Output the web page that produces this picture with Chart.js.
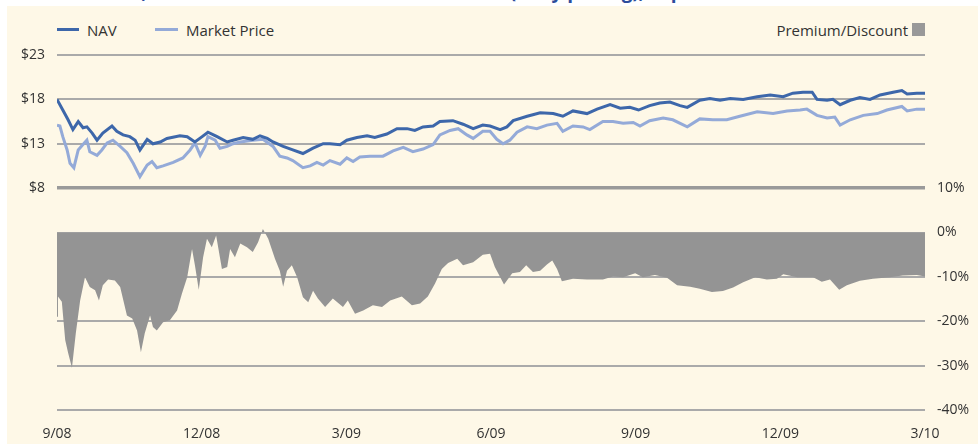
<!DOCTYPE html>
<html>
<head>
<meta charset="utf-8">
<script src="https://cdn.jsdelivr.net/npm/chart.js@4.4.1/dist/chart.umd.min.js"></script>
<style>
body{margin:0;background:#fff;width:978px;height:444px;overflow:hidden;position:relative;font-family:'Open Sans',sans-serif}
#bg{position:absolute;left:7px;top:6px;right:0;bottom:0;background:#fef8e7}
#title{position:absolute;left:20px;top:-22px;font-weight:bold;font-size:19px;line-height:26px;color:#2c4d9c;white-space:nowrap}
.leg{position:absolute;font-size:15px;color:#333;line-height:20px;top:20px}
.sw{position:absolute;height:3px;top:28px}
#sq{position:absolute;left:912px;top:23px;width:13px;height:13px;background:#999}
canvas{position:absolute;left:0;top:0}
</style>
</head>
<body>
<div id="bg"></div>
<div id="title">Market Price, Net Asset Value &amp; Premium/Discount (daily pricing), September 2008 – March 2010</div>
<div class="sw" style="left:57px;width:22px;background:#3d67aa"></div>
<div class="leg" style="left:87px">NAV</div>
<div class="sw" style="left:155px;width:23px;background:#94aad8"></div>
<div class="leg" style="left:186px">Market Price</div>
<div class="leg" style="right:70px">Premium/Discount</div>
<div id="sq"></div>
<canvas id="chart" width="978" height="444"></canvas>
<script>
// months since 9/08
let navM=[0,0.12,0.23,0.33,0.44,0.54,0.62,0.73,0.83,0.95,1.14,1.24,1.37,1.51,1.62,1.72,1.87,1.99,2.14,2.28,2.55,2.70,2.86,3.01,3.13,3.32,3.53,3.65,3.86,4.06,4.21,4.36,4.48,4.69,4.89,5.10,5.31,5.52,5.66,5.87,6.01,6.22,6.43,6.59,6.84,7.05,7.26,7.42,7.59,7.80,7.94,8.21,8.42,8.63,8.83,8.98,9.19,9.33,9.46,9.75,10.02,10.29,10.49,10.70,10.99,11.20,11.47,11.68,11.88,12.06,12.29,12.50,12.71,12.92,13.07,13.33,13.54,13.75,13.96,14.23,14.52,14.79,15.06,15.26,15.47,15.66,15.76,15.97,16.09,16.24,16.45,16.65,16.86,17.07,17.34,17.52,17.63,17.83,18.0]
let navV=[18.0,16.8,15.7,14.6,15.5,14.8,14.9,14.2,13.4,14.2,15.0,14.4,14.0,13.8,13.4,12.3,13.5,13.0,13.2,13.6,13.9,13.8,13.2,13.8,14.3,13.8,13.2,13.4,13.7,13.5,13.9,13.6,13.2,12.7,12.3,11.9,12.5,13.0,13.0,12.9,13.4,13.7,13.9,13.7,14.1,14.7,14.7,14.5,14.9,15.0,15.5,15.6,15.2,14.7,15.1,15.0,14.6,14.9,15.6,16.1,16.5,16.4,16.1,16.7,16.4,16.9,17.4,17.0,17.1,16.8,17.3,17.6,17.7,17.3,17.1,17.9,18.1,17.9,18.1,18.0,18.3,18.5,18.3,18.7,18.8,18.8,18.0,17.9,18.0,17.4,17.9,18.2,18.0,18.5,18.8,19.0,18.6,18.7,18.7]

let mktM=[0,0.06,0.12,0.21,0.27,0.35,0.44,0.52,0.62,0.68,0.83,0.93,1.04,1.16,1.31,1.45,1.58,1.72,1.87,1.97,2.07,2.20,2.41,2.61,2.76,2.86,2.97,3.07,3.13,3.28,3.38,3.53,3.65,3.80,4.06,4.27,4.48,4.62,4.77,4.89,5.10,5.25,5.39,5.52,5.66,5.87,6.01,6.14,6.28,6.49,6.76,6.97,7.18,7.38,7.59,7.80,7.94,8.15,8.32,8.50,8.63,8.83,8.98,9.12,9.25,9.39,9.54,9.75,9.95,10.16,10.37,10.49,10.70,10.91,11.05,11.32,11.53,11.74,11.95,12.09,12.29,12.57,12.77,13.07,13.33,13.60,13.89,14.16,14.52,14.85,15.14,15.41,15.55,15.76,15.97,16.13,16.24,16.45,16.72,17.01,17.21,17.52,17.63,17.83,18.0]
let mktV=[15.1,15.0,13.8,12.3,10.8,10.3,12.3,12.8,13.4,12.1,11.7,12.3,13.1,13.4,12.7,12.0,10.8,9.3,10.6,11.0,10.3,10.5,10.9,11.4,12.3,13.1,11.7,12.7,13.8,13.4,12.5,12.7,13.0,13.2,13.4,13.5,12.7,11.6,11.4,11.1,10.3,10.5,10.9,10.6,11.1,10.7,11.4,11.0,11.5,11.6,11.6,12.2,12.6,12.1,12.4,12.9,14.0,14.5,14.7,14.0,13.6,14.4,14.4,13.5,13.0,13.4,14.3,14.9,14.7,15.1,15.3,14.4,15.0,14.9,14.6,15.5,15.5,15.3,15.4,15.0,15.6,15.9,15.7,14.9,15.8,15.7,15.7,16.1,16.6,16.4,16.7,16.8,16.9,16.2,15.9,16.0,15.1,15.7,16.2,16.4,16.8,17.2,16.7,16.9,16.9]

let pdM=[0,0.02,0.10,0.17,0.23,0.31,0.39,0.48,0.58,0.68,0.79,0.87,0.95,1.06,1.20,1.31,1.45,1.56,1.66,1.74,1.82,1.93,1.99,2.07,2.20,2.34,2.49,2.59,2.70,2.80,2.86,2.94,3.03,3.11,3.21,3.30,3.42,3.53,3.59,3.69,3.80,3.94,4.06,4.17,4.27,4.38,4.52,4.62,4.69,4.77,4.87,4.98,5.10,5.21,5.31,5.41,5.56,5.72,5.93,6.03,6.18,6.35,6.55,6.74,6.91,7.15,7.36,7.53,7.69,7.84,7.98,8.11,8.30,8.42,8.63,8.83,8.98,9.08,9.27,9.44,9.60,9.73,9.87,10.02,10.16,10.27,10.37,10.47,10.70,10.99,11.32,11.53,11.74,11.99,12.15,12.40,12.65,12.86,13.13,13.33,13.58,13.81,14.02,14.23,14.48,14.72,14.93,15.06,15.35,15.68,15.86,16.03,16.22,16.38,16.65,16.92,17.27,17.54,17.83,18.0]
let pdV=[-19.0,-14.4,-15.6,-24.2,-27.1,-30.5,-22.7,-15.3,-10.1,-12.3,-13.0,-15.3,-11.9,-10.6,-10.8,-12.3,-18.7,-19.4,-22.1,-27.0,-22.7,-18.7,-21.3,-22.1,-20.2,-19.8,-17.6,-13.8,-10.1,-3.7,-7.4,-12.9,-5.6,-1.4,-3.3,-0.7,-8.2,-7.8,-3.7,-5.6,-2.5,-3.3,-4.4,-2.2,0.8,-1.4,-5.9,-8.6,-12.2,-8.6,-7.4,-10.1,-14.6,-15.7,-13.1,-14.9,-16.8,-14.9,-16.8,-15.3,-18.3,-17.6,-16.4,-16.8,-15.3,-14.4,-16.4,-16.0,-14.4,-11.5,-8.2,-6.9,-5.9,-7.4,-6.7,-5.0,-4.8,-7.8,-11.7,-9.2,-8.9,-7.4,-8.9,-8.6,-7.2,-6.3,-8.2,-11.0,-10.4,-10.6,-10.6,-9.9,-10.1,-9.2,-10.1,-9.6,-10.2,-11.9,-12.2,-12.7,-13.4,-13.2,-12.4,-11.2,-10.1,-10.6,-10.4,-9.4,-10.1,-10.1,-11.1,-10.6,-12.9,-11.9,-10.9,-10.4,-10.1,-9.7,-9.6,-9.9]

let dateLabels=["9/08","12/08","3/09","6/09","9/09","12/09","3/10"]

function pts(m,v){return m.map((x,i)=>({x:x,y:v[i]}))}

Chart.defaults.font.family="'Open Sans', sans-serif"
Chart.defaults.font.size=14
Chart.defaults.color="#333"

let chart=new Chart(document.getElementById("chart"),{
type:"line",
data:{
datasets:[
{label:"NAV",data:pts(navM,navV),yAxisID:"y",borderColor:"#3d67aa",borderWidth:3,pointRadius:0,tension:0,fill:false,order:1},
{label:"Market Price",data:pts(mktM,mktV),yAxisID:"y",borderColor:"#94aad8",borderWidth:3,pointRadius:0,tension:0,fill:false,order:2},
{label:"Premium/Discount",data:pts(pdM,pdV),yAxisID:"y2",borderWidth:0,borderColor:"#949494",backgroundColor:"#949494",pointRadius:0,tension:0,fill:"origin",order:3}
]
},
options:{
responsive:false,
animation:false,
devicePixelRatio:1,
layout:{padding:{top:55}},
plugins:{legend:{display:false},tooltip:{enabled:false}},
scales:{
x:{type:"linear",min:0,max:18,
ticks:{stepSize:3,padding:8,maxRotation:0,callback:v=>dateLabels[v/3]},
grid:{display:false},border:{display:false},
afterFit:s=>{s.height=34}},
y:{position:"left",min:-17,max:23,
ticks:{stepSize:5,padding:12,callback:v=>v>=8?"$"+v:""},
grid:{drawTicks:false,color:c=>c.tick&&c.tick.value===8?"#9a9a9a":"#aaaaaa",lineWidth:c=>c.tick&&c.tick.value===8?3.5:2},
border:{display:false},
afterFit:s=>{s.width=57}},
y2:{position:"right",min:-40,max:40,
ticks:{stepSize:10,padding:12,callback:v=>v<=10?v+"%":""},
grid:{display:false,drawTicks:false},border:{display:false},
afterFit:s=>{s.width=53}}
}
}
})
</script>
</body>
</html>
